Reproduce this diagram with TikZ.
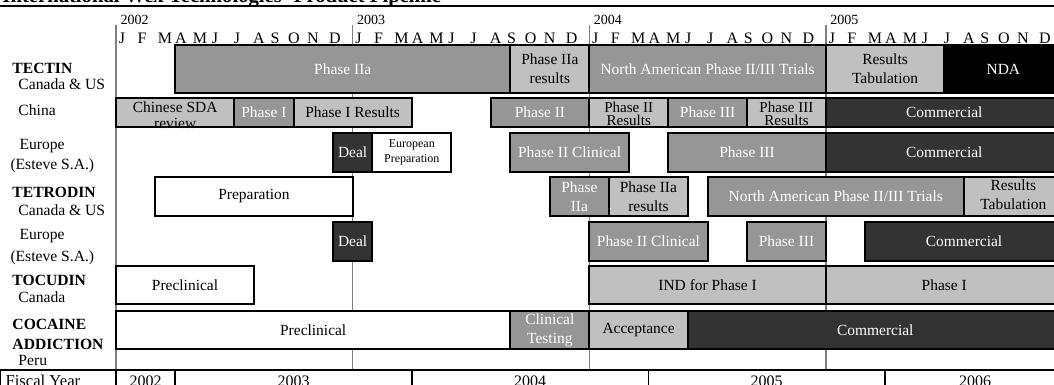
\documentclass[tikz,border=0pt]{standalone}
\usepackage{fontspec}
\setmainfont{Liberation Serif}

\tikzset{every picture/.style={line width=0.75pt}}
\tikzset{
  bar/.style={draw=black,line width=1.5pt},
  midbar/.style={bar,fill={rgb,255:red,150;green,150;blue,150}},
  lightbar/.style={bar,fill={rgb,255:red,192;green,192;blue,192}},
  darkbar/.style={bar,fill={rgb,255:red,51;green,51;blue,51}},
  blackbar/.style={bar,fill=black},
  whitebar/.style={bar,fill=white},
  wtxt/.style={font=\fontsize{11.6}{14.3}\selectfont,text=white,align=center,inner sep=0pt},
  btxt/.style={font=\fontsize{11.6}{14.3}\selectfont,text=black,align=center,inner sep=0pt},
  tight/.style={font=\fontsize{11.3}{10.4}\selectfont},
  lbl/.style={font=\fontsize{11.7}{13}\selectfont,anchor=base west,inner sep=0pt},
  boldlbl/.style={lbl,font=\fontsize{11.7}{13}\selectfont\bfseries},
  axtxt/.style={font=\fontsize{10.5}{12}\selectfont,anchor=base,inner sep=0pt},
  montxt/.style={font=\fontsize{12}{13}\selectfont,anchor=base,inner sep=0pt},
  fytxt/.style={font=\fontsize{12}{13}\selectfont,anchor=base,inner sep=0pt},
  yearline/.style={draw={rgb,255:red,128;green,128;blue,128},line width=1.1pt},
  fyline/.style={draw=black,line width=1.1pt},
}

\begin{document}
\begin{tikzpicture}[x=0.75pt,y=0.75pt,yscale=-1,xscale=1]
        \useasboundingbox (0,0) rectangle (1054,385);

        % Title
        \node [font=\fontsize{15.5}{17}\selectfont\bfseries,anchor=base west,inner sep=0pt] (title) at (2,2.5) {International Wex Technologies' Product Pipeline};
        \draw [line width=1.1pt] (0,6) -- (1054,6) ;

        % Axis
        \foreach \yr/\yx [count=\i] in {2002/116,2003/352.6,2004/589.3,2005/825.9}{
          \draw [yearline] (\yx,25) -- (\yx,370) ;
          \node [axtxt,anchor=base west] (yr\i) at (\yx+4,25) {\yr};
          \foreach \l/\dx [count=\k] in {J/6,F/26,M/49,A/65,M/84,J/99,J/121,A/143,S/159,O/178,N/197,D/219}
            \node [montxt] (mon\i-\k) at (\yx+\dx,44) {\l};
        }

        % Labels
        \node [boldlbl] (tectin) at (12,74) {TECTIN};
        \node [lbl] (tectinreg) at (18,90) {Canada \& US};
        \node [lbl] (china) at (18,116) {China};
        \node [lbl] (eur1) at (19,149) {Europe};
        \node [lbl] (eur1b) at (10,170) {(Esteve S.A.)};
        \node [boldlbl] (tetrodin) at (12,197) {TETRODIN};
        \node [lbl] (tetrodinreg) at (18,215) {Canada \& US};
        \node [lbl] (eur2) at (19,239) {Europe};
        \node [lbl] (eur2b) at (10,261) {(Esteve S.A.)};
        \node [boldlbl] (tocudin) at (12,285) {TOCUDIN};
        \node [lbl] (tocudinreg) at (18,302) {Canada};
        \node [boldlbl] (cocaine) at (12,329) {COCAINE};
        \node [boldlbl] (addiction) at (12,349) {ADDICTION};
        \node [lbl] (peru) at (18,365) {Peru};

        % Blocks - TECTIN
        \draw [midbar] (175.2,45) rectangle node [wtxt] (tA1) {Phase IIa} (510.4,93) ;
        \draw [lightbar] (510.4,45) rectangle node [btxt] (tA2) {Phase IIa\\results} (589.3,93) ;
        \draw [midbar] (589.3,45) rectangle node [wtxt] (tA3) {North American Phase II/III Trials} (825.9,93) ;
        \draw [lightbar] (825.9,45) rectangle node [btxt] (tA4) {Results\\Tabulation} (944.2,93) ;
        \draw [blackbar] (944.2,45) rectangle node [wtxt] (tA5) {NDA} (1062.6,93) ;

        % Blocks - China
        \draw [lightbar] (116,98) rectangle node [btxt,font=\fontsize{11.6}{12}\selectfont,yshift=-2] (cB1) {Chinese SDA\\review} (234.3,127) ;
        \draw [midbar] (234.3,98) rectangle node [wtxt] (cB2) {Phase I} (293.5,127) ;
        \draw [lightbar] (293.5,98) rectangle node [btxt] (cB3) {Phase I Results} (411.8,127) ;
        \draw [midbar] (490.7,98) rectangle node [wtxt] (cB4) {Phase II} (589.3,127) ;
        \draw [lightbar] (589.3,98) rectangle node [btxt,tight,yshift=-1] (cB5) {Phase II\\Results} (668.2,127) ;
        \draw [midbar] (668.2,98) rectangle node [wtxt] (cB6) {Phase III} (747,127) ;
        \draw [lightbar] (747,98) rectangle node [btxt,tight,yshift=-1] (cB7) {Phase III\\Results} (825.9,127) ;
        \draw [darkbar] (825.9,98) rectangle node [wtxt] (cB8) {Commercial} (1062.6,127) ;

        % Blocks - Europe (TECTIN)
        \draw [darkbar] (332.9,133) rectangle node [wtxt] (eC1) {Deal} (372.4,172) ;
        \draw [whitebar] (372.4,133) rectangle node [btxt,font=\fontsize{9}{11.3}\selectfont] (eC2) {European\\Preparation} (451.2,172) ;
        \draw [midbar] (510.4,133) rectangle node [wtxt] (eC3) {Phase II Clinical} (628.7,172) ;
        \draw [midbar] (668.2,133) rectangle node [wtxt] (eC4) {Phase III} (825.9,172) ;
        \draw [darkbar] (825.9,133) rectangle node [wtxt] (eC5) {Commercial} (1062.6,172) ;

        % Blocks - TETRODIN
        \draw [whitebar] (155.4,177) rectangle node [btxt] (rD1) {Preparation} (352.6,216) ;
        \draw [midbar] (549.8,177) rectangle node [wtxt] (rD2) {Phase\\IIa} (609,216) ;
        \draw [lightbar] (609,177) rectangle node [btxt] (rD3) {Phase IIa\\results} (687.9,216) ;
        \draw [midbar] (707.6,177) rectangle node [wtxt] (rD4) {North American Phase II/III Trials} (964,216) ;
        \draw [lightbar] (964,177) rectangle node [btxt,yshift=1] (rD5) {Results\\Tabulation} (1062.6,216) ;

        % Blocks - Europe (TETRODIN)
        \draw [darkbar] (332.9,222) rectangle node [wtxt] (eE1) {Deal} (372.4,261) ;
        \draw [midbar] (589.3,222) rectangle node [wtxt] (eE2) {Phase II Clinical} (707.6,261) ;
        \draw [midbar] (747,222) rectangle node [wtxt] (eE3) {Phase III} (825.9,261) ;
        \draw [darkbar] (865.4,222) rectangle node [wtxt] (eE4) {Commercial} (1062.6,261) ;

        % Blocks - TOCUDIN
        \draw [whitebar] (116,266) rectangle node [btxt] (oF1) {Preclinical} (254,304) ;
        \draw [lightbar] (589.3,266) rectangle node [btxt] (oF2) {IND for Phase I} (825.9,304) ;
        \draw [lightbar] (825.9,266) rectangle node [btxt] (oF3) {Phase I} (1062.6,304) ;

        % Blocks - COCAINE ADDICTION
        \draw [whitebar] (116,311) rectangle node [btxt] (aG1) {Preclinical} (510.4,349) ;
        \draw [midbar] (510.4,311) rectangle node [wtxt] (aG2) {Clinical\\Testing} (589.3,349) ;
        \draw [lightbar] (589.3,311) rectangle node [btxt] (aG3) {Acceptance} (687.9,349) ;
        \draw [darkbar] (687.9,311) rectangle node [wtxt] (aG4) {Commercial} (1062.6,349) ;

        % Fiscal years
        \draw [fyline] (0,370) -- (1054,370) ;
        \foreach \fx in {0,116,175.2,411.8,648.4,885}
          \draw [fyline] (\fx,370) -- (\fx,390) ;
        \node [lbl,font=\fontsize{12.5}{13}\selectfont] (fiscal) at (5,386) {Fiscal Year};
        \node [fytxt] (fy2002) at (145.6,386) {2002};
        \node [fytxt] (fy2003) at (293.5,386) {2003};
        \node [fytxt] (fy2004) at (530.1,386) {2004};
        \node [fytxt] (fy2005) at (766.7,386) {2005};
        \node [fytxt] (fy2006) at (975,386) {2006};

    \end{tikzpicture}
\end{document}
